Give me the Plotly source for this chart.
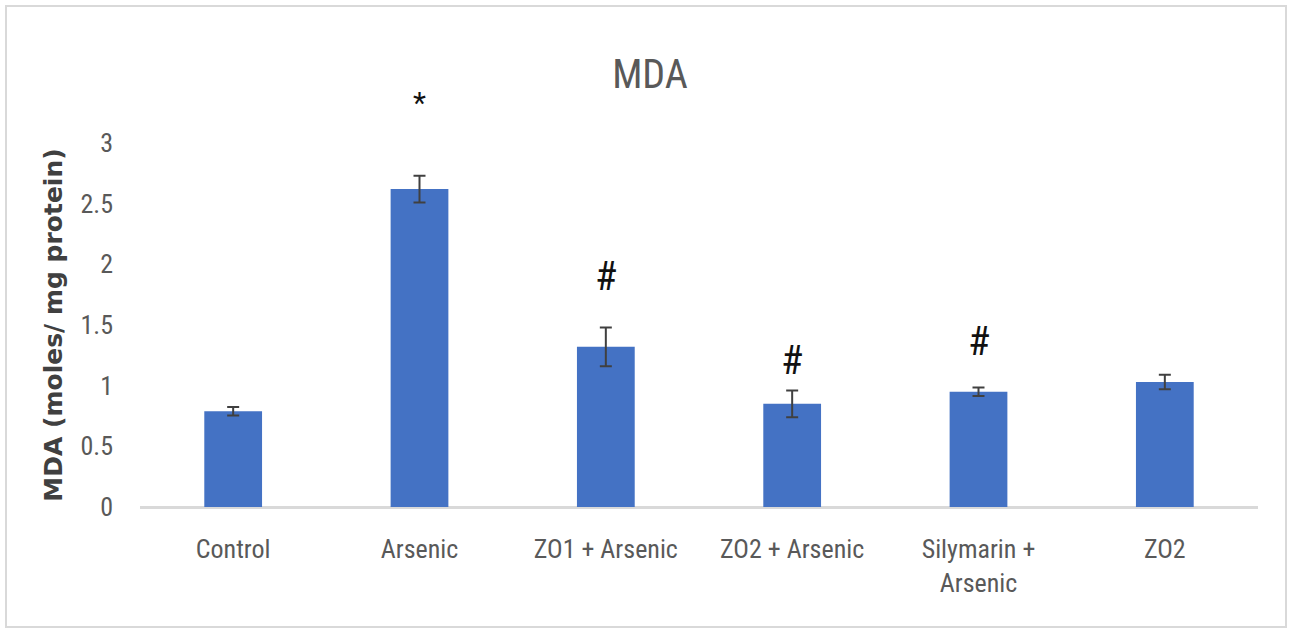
import plotly.graph_objects as go

# Group means and standard errors of MDA
groups = ["Control", "Arsenic", "ZO1 + Arsenic", "ZO2 + Arsenic", "Silymarin +<br>Arsenic", "ZO2"]
mda = [0.79, 2.62, 1.32, 0.85, 0.95, 1.03]
sem = [0.035, 0.11, 0.16, 0.11, 0.035, 0.06]

# Significance markers and the heights at which they sit
marks = ["", "*", "#", "#", "#", ""]
mark_y = [None, 3.33, 1.90, 1.21, 1.36, None]

Y_MAX = 3.0
W, H = 1290, 632
ML, MR, MT, MB = 140, 32, 143, 125

narrow = "Liberation Sans Narrow, Arial Narrow, Roboto Condensed, sans-serif"

fig = go.Figure()
fig.add_trace(go.Bar(
    x=groups,
    y=mda,
    width=0.31,
    marker=dict(color="#4472c4", line=dict(width=0)),
    error_y=dict(type="data", array=sem, visible=True,
                 color="#404040", thickness=2, width=6),
    cliponaxis=False,
))

for g, m, yy in zip(groups, marks, mark_y):
    if m:
        fig.add_annotation(x=g, y=yy / Y_MAX, text=m, showarrow=False,
                           font=dict(family=narrow, size=40 if m == "#" else 30, color="#111111"),
                           xref="x", yref="y domain", yanchor="middle")

# light frame round the chart area
pw, ph = W - ML - MR, H - MT - MB
def px_x(p): return (p - ML) / pw
def px_y(p): return (H - MB - p) / ph
fig.add_shape(type="rect", xref="paper", yref="paper",
              x0=px_x(6), x1=px_x(1286), y0=px_y(627), y1=px_y(6),
              line=dict(color="#d9d9d9", width=2), fillcolor="rgba(0,0,0,0)", layer="below")

fig.update_layout(
    width=W, height=H,
    margin=dict(l=ML, r=MR, t=MT, b=MB),
    paper_bgcolor="white", plot_bgcolor="white",
    showlegend=False,
    title=dict(text="MDA", x=650 / W, xref="container", xanchor="center",
               y=1 - 74 / H, yanchor="middle",
               font=dict(family=narrow, size=40, color="#595959")),
    xaxis=dict(
        showgrid=False, zeroline=False,
        showline=False, ticks="",
        tickfont=dict(family=narrow, size=26, color="#595959"),
        ticklabelstandoff=24,
    ),
    yaxis=dict(
        range=[0, Y_MAX], dtick=0.5, tickformat="~g",
        showgrid=False, zeroline=True, zerolinecolor="#d9d9d9", zerolinewidth=3,
        showline=False, ticks="",
        tickfont=dict(family=narrow, size=26, color="#595959"),
        ticklabelstandoff=26,
        title=dict(text="<b>MDA (moles/ mg protein)</b>",
                   font=dict(family="DejaVu Sans, sans-serif", size=25, color="#404040"),
                   standoff=10),
    ),
    bargap=0.69,
)

fig.write_html("out.html")
